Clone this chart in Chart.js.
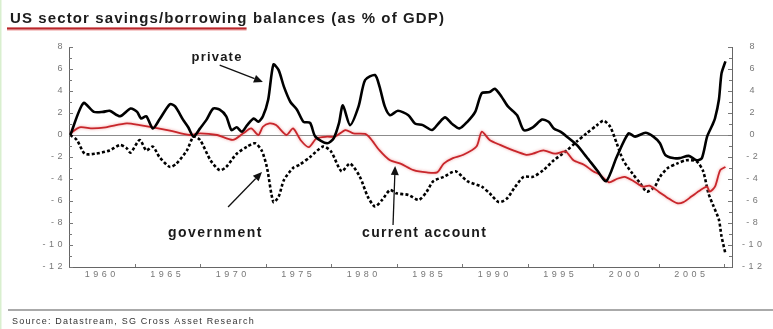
<!DOCTYPE html>
<html><head><meta charset="utf-8">
<script src="https://cdn.jsdelivr.net/npm/chart.js@4"></script>
<style>html,body{margin:0;padding:0;background:#fff;overflow:hidden}canvas{display:block}</style>
</head><body>
<canvas id="c" width="773" height="329"></canvas>
<script>
// ---- data (x = year, y = % of GDP) ----
const privateYears = [1957.6,1958.6,1959.4,1960.1,1960.6,1961.4,1962.2,1962.7,1963.0,1963.4,1963.9,1964.4,1965.2,1965.6,1966.2,1966.6,1967.0,1967.5,1968.0,1968.5,1969.0,1969.5,1969.9,1970.3,1970.7,1971.1,1971.6,1971.95,1972.3,1972.7,1973.1,1973.5,1973.9,1974.4,1974.9,1975.4,1975.9,1976.3,1977.2,1977.7,1978.1,1978.4,1978.95,1979.6,1980.1,1980.85,1981.2,1981.6,1982.0,1982.6,1983.4,1983.9,1984.5,1985.2,1985.7,1986.2,1986.7,1987.3,1987.9,1988.5,1989.0,1989.6,1990.0,1990.5,1991.0,1991.7,1992.2,1992.9,1993.6,1994.1,1994.5,1995.0,1995.5,1996.25,1997.0,1997.8,1998.5,1999.3,2000.2,2000.7,2001.5,2002.1,2002.6,2003.0,2003.6,2004.1,2004.8,2005.4,2005.8,2006.2,2006.6,2006.8,2007.1,2007.3,2007.6];
const privateValues = [0,2.9,2.1,2.1,2.2,1.7,2.4,2.1,1.5,1.7,0.6,1.4,2.8,2.6,1.4,0.7,-0.15,0.6,1.4,2.4,2.3,1.7,0.45,0.7,0.3,0.9,1.5,1.2,1.7,3.2,6.4,5.9,4.4,3.0,2.3,1.2,1.1,-0.15,-0.75,-0.3,1.05,2.7,0.9,2.6,5.0,5.45,4.4,2.6,1.8,2.2,1.8,1.05,0.9,0.45,1.05,1.6,1.05,0.6,1.2,2.1,3.8,3.9,4.2,3.5,2.6,1.8,0.45,0.7,1.4,1.2,0.6,0.3,-0.15,-0.9,-2.0,-3.2,-4.2,-2.0,0.15,-0.15,0.2,-0.15,-0.75,-1.8,-2.1,-2.1,-1.9,-2.3,-2.1,-0.15,0.9,1.5,3.2,5.6,6.7];

const currentYears = [1957.6,1958.3,1959.3,1960.3,1961.9,1962.9,1963.9,1965.2,1966.7,1967.5,1968.8,1970.0,1970.8,1971.4,1971.95,1972.3,1972.8,1973.3,1974.1,1974.6,1975.2,1975.8,1976.4,1977.2,1977.8,1978.6,1979.2,1980.1,1980.5,1981.2,1982.0,1982.8,1983.8,1984.8,1985.6,1986.1,1986.8,1987.6,1988.6,1989.0,1989.6,1990.4,1991.4,1992.4,1992.9,1993.7,1994.6,1995.4,1996.0,1996.8,1997.5,1998.0,1998.7,1999.3,1999.9,2000.6,2001.3,2001.8,2002.5,2003.3,2003.9,2004.4,2005.0,2005.7,2006.2,2006.4,2006.8,2007.2,2007.6];
const currentValues = [0.15,0.7,0.6,0.7,1.05,0.9,0.7,0.4,0,0.15,0,-0.45,0.15,0.6,0,0.75,1.05,0.9,0,0.6,-0.5,-1.1,-0.3,-0.15,-0.15,0.45,0.15,0.1,-0.3,-1.4,-2.3,-2.6,-3.2,-3.4,-3.4,-2.6,-2.1,-1.8,-1.05,0.3,-0.45,-0.9,-1.4,-1.8,-1.7,-1.4,-1.7,-1.5,-2.3,-2.7,-3.3,-3.6,-4.3,-4.0,-3.8,-4.2,-4.7,-4.6,-5.15,-5.8,-6.2,-6.1,-5.6,-5.0,-4.7,-5.15,-4.7,-3.2,-2.9];

const governmentYears = [1957.6,1958.1,1958.7,1959.5,1960.6,1961.4,1961.9,1962.2,1962.9,1963.4,1963.9,1964.4,1965.2,1965.7,1966.5,1967.0,1967.5,1968.3,1969.0,1969.5,1970.3,1971.1,1971.7,1972.2,1972.6,1973.1,1973.5,1973.9,1974.6,1975.1,1975.9,1976.9,1977.5,1978.3,1978.95,1979.7,1980.3,1980.85,1981.4,1982.0,1982.5,1983.4,1984.2,1984.8,1985.3,1986.1,1987.0,1987.9,1989.0,1989.6,1990.3,1990.9,1991.5,1992.2,1992.9,1993.7,1994.5,1995.5,1996.25,1997.0,1997.8,1998.3,1998.8,1999.3,1999.8,2000.5,2001.1,2001.6,2002.2,2002.6,2003.2,2003.9,2004.6,2005.4,2005.9,2006.3,2006.7,2007.1,2007.3,2007.6];
const governmentValues = [0,-0.45,-1.7,-1.7,-1.4,-0.9,-1.2,-1.6,-0.45,-1.4,-1.05,-2.0,-2.9,-2.6,-1.4,-0.15,-0.45,-2.3,-3.2,-2.9,-1.7,-1.05,-0.75,-1.4,-2.9,-6.1,-5.6,-4.1,-3.0,-2.7,-2.0,-1.05,-1.5,-3.3,-2.6,-3.8,-5.6,-6.5,-5.9,-5.0,-5.3,-5.45,-5.9,-5.15,-4.2,-3.8,-3.3,-4.2,-4.7,-5.3,-6.1,-5.8,-4.8,-3.8,-3.8,-3.2,-2.3,-1.4,-0.6,0.15,0.9,1.3,0.75,-0.75,-2.3,-3.5,-4.4,-5.15,-4.7,-3.8,-3.0,-2.6,-2.3,-2.4,-3.3,-5.3,-6.5,-7.7,-9.2,-10.8];

// ---- axes / ticks ----
const yLabelValues = [-12,-10,-8,-6,-4,-2,0,2,4,6,8];
const xLabelYears = [1960,1965,1970,1975,1980,1985,1990,1995,2000,2005];
const xTickMarkYears = [1962.5,1967.5,1972.5,1977.5,1982.5,1987.5,1992.5,1997.5,2002.5,2007.5];

// ---- texts ----
const titleText = "US sector savings/borrowing balances (as % of GDP)";
const titleUnderlined = "US sector savings/borrowing";
const sourceText = "Source: Datastream, SG Cross Asset Research";
// annotation labels with anchor points in data coordinates (year, %)
const labelNames = ["private", "government", "current account"];
const labelAnchors = [[1968.8, 6.73], [1968.68, -9.3], [1984.64, -9.3]];
const arrowFrom = [[1969.0, 6.36], [1969.64, -6.55], [1982.23, -8.18]];
const arrowTo = [[1972.3, 4.82], [1972.23, -3.36], [1982.39, -2.82]];

const toXY = (xs, ys) => xs.map((x, i) => ({x: x, y: ys[i]}));

const FONT = '"Liberation Sans", Arial, sans-serif';
const TICK_SPACING = '3.5px';

function fitText(ctx, text, x, y, width, align) {
  ctx.letterSpacing = '0px';
  const w = ctx.measureText(text).width;
  const n = text.length;
  const sp = Math.max(0, (width - w) / n);
  ctx.letterSpacing = sp + 'px';
  let sx = x;
  if (align === 'center') sx = x - width / 2;
  ctx.textAlign = 'left';
  ctx.fillText(text, sx, y);
  ctx.letterSpacing = '0px';
  return sp;
}

function arrow(ctx, x1, y1, x2, y2) {
  const a = Math.atan2(y2 - y1, x2 - x1);
  const hl = 9, hw = 4;
  const bx = x2 - hl * Math.cos(a), by = y2 - hl * Math.sin(a);
  ctx.beginPath();
  ctx.moveTo(x1, y1); ctx.lineTo(bx, by);
  ctx.stroke();
  ctx.beginPath();
  ctx.moveTo(x2, y2);
  ctx.lineTo(bx + hw * Math.sin(a), by - hw * Math.cos(a));
  ctx.lineTo(bx - hw * Math.sin(a), by + hw * Math.cos(a));
  ctx.closePath();
  ctx.fill();
}

const decor = {
  id: 'decor',
  beforeLayout(chart) { chart.ctx.letterSpacing = TICK_SPACING; },
  afterLayout(chart) { chart.ctx.letterSpacing = '0px'; },
  beforeDraw(chart) { chart.ctx.letterSpacing = TICK_SPACING; },
  beforeDatasetsDraw(chart) {
    const ctx = chart.ctx;
    ctx.letterSpacing = '0px';
    const {x, y} = chart.scales;
    ctx.save();
    ctx.strokeStyle = '#777';
    ctx.lineWidth = 1;
    ctx.beginPath();
    for (let v = -12; v <= 8; v++) {
      const py = Math.round(y.getPixelForValue(v)) + 0.5;
      const len = v % 2 === 0 ? 4 : 3;
      ctx.moveTo(x.left, py); ctx.lineTo(x.left + len, py);
      ctx.moveTo(x.right, py); ctx.lineTo(x.right - len, py);
    }
    for (const t of xTickMarkYears) {
      const px = Math.round(x.getPixelForValue(t)) + 0.5;
      ctx.moveTo(px, y.bottom); ctx.lineTo(px, y.bottom - 3);
    }
    ctx.stroke();
    ctx.restore();
  },
  beforeDatasetDraw(chart, args) {
    if (args.index === 1) {
      chart.ctx.save();
      chart.ctx.shadowColor = 'rgba(235,120,120,0.75)';
      chart.ctx.shadowBlur = 3;
    }
  },
  afterDatasetDraw(chart, args) {
    if (args.index === 1) chart.ctx.restore();
  },
  afterDraw(chart) {
    const ctx = chart.ctx;
    const {x, y} = chart.scales;
    ctx.save();
    ctx.letterSpacing = '0px';
    // faint left border of the figure
    ctx.fillStyle = '#d9efcf';
    ctx.fillRect(0, 0, 1.5, 329);
    // title
    ctx.fillStyle = '#1c1c1c';
    ctx.font = 'bold 15px ' + FONT;
    ctx.textBaseline = 'alphabetic';
    const sp = fitText(ctx, titleText, 10, 23, 435, 'left');
    ctx.letterSpacing = sp + 'px';
    const uw = ctx.measureText(titleUnderlined).width - sp;
    ctx.letterSpacing = '0px';
    ctx.strokeStyle = 'rgba(240,170,170,0.6)';
    ctx.lineWidth = 4;
    ctx.beginPath(); ctx.moveTo(7, 29); ctx.lineTo(10 + uw, 29); ctx.stroke();
    ctx.strokeStyle = '#b8262b';
    ctx.lineWidth = 2.2;
    ctx.beginPath(); ctx.moveTo(7, 28.5); ctx.lineTo(10 + uw, 28.5); ctx.stroke();
    // annotations
    ctx.fillStyle = '#1a1a1a';
    const widths = [51, 95, 125];
    const sizes = [13, 14, 14];
    for (let i = 0; i < labelNames.length; i++) {
      ctx.font = 'bold ' + sizes[i] + 'px ' + FONT;
      fitText(ctx, labelNames[i], x.getPixelForValue(labelAnchors[i][0]), y.getPixelForValue(labelAnchors[i][1]), widths[i], 'center');
    }
    ctx.strokeStyle = '#111';
    ctx.fillStyle = '#111';
    ctx.lineWidth = 1.3;
    for (let i = 0; i < arrowFrom.length; i++) {
      arrow(ctx, x.getPixelForValue(arrowFrom[i][0]), y.getPixelForValue(arrowFrom[i][1]),
                 x.getPixelForValue(arrowTo[i][0]), y.getPixelForValue(arrowTo[i][1]));
    }
    // source rule + text
    ctx.fillStyle = '#aaaaaa';
    ctx.fillRect(8, 309, 765, 2);
    ctx.fillStyle = '#333333';
    ctx.font = '9px ' + FONT;
    fitText(ctx, sourceText, 12, 324, 243, 'left');
    ctx.restore();
  }
};

const tickFont = {family: FONT, size: 9};
new Chart(document.getElementById('c'), {
  type: 'line',
  data: {
    datasets: [
      {label: 'private', data: toXY(privateYears, privateValues), borderColor: '#000', borderWidth: 2.6, pointRadius: 0, tension: 0.25, fill: false},
      {label: 'current account', data: toXY(currentYears, currentValues), borderColor: '#c8262b', borderWidth: 1.8, pointRadius: 0, tension: 0.25, fill: false},
      {label: 'government', data: toXY(governmentYears, governmentValues), borderColor: '#000', borderWidth: 2.6, borderDash: [3, 2.2], borderCapStyle: 'butt', pointRadius: 0, tension: 0.25, fill: false}
    ]
  },
  options: {
    responsive: false,
    animation: false,
    events: [],
    layout: {padding: {top: 47, bottom: 42, left: 0, right: 0}},
    plugins: {legend: {display: false}, tooltip: {enabled: false}, title: {display: false}},
    scales: {
      x: {
        type: 'linear', min: 1957.5, max: 2008.1,
        afterBuildTicks: s => { s.ticks = xLabelYears.concat(xTickMarkYears).sort((a, b) => a - b).map(v => ({value: v})); },
        afterFit: s => { s.height = 20; },
        ticks: {autoSkip: false, maxRotation: 0, padding: 2, color: '#777', font: tickFont,
                callback: v => xLabelYears.includes(v) ? String(v) : ''},
        grid: {display: true, drawOnChartArea: false, drawTicks: false},
        border: {display: true, color: '#666', width: 1}
      },
      y: {
        position: 'left', min: -12, max: 8,
        afterBuildTicks: s => { s.ticks = yLabelValues.map(v => ({value: v})); },
        afterFit: s => { s.width = 69; },
        ticks: {padding: 3, color: '#777', font: tickFont, callback: v => String(v)},
        grid: {drawTicks: false, color: c => (c.tick && c.tick.value === 0) ? '#8c8c8c' : 'rgba(0,0,0,0)', lineWidth: 1},
        border: {display: true, color: '#666', width: 1}
      },
      y2: {
        position: 'right', min: -12, max: 8,
        afterBuildTicks: s => { s.ticks = yLabelValues.map(v => ({value: v})); },
        afterFit: s => { s.width = 41; },
        ticks: {padding: 10, crossAlign: 'center', color: '#777', font: tickFont, callback: v => String(v)},
        grid: {drawOnChartArea: false, drawTicks: false},
        border: {display: true, color: '#666', width: 1}
      }
    }
  },
  plugins: [decor]
});
</script>
</body></html>
